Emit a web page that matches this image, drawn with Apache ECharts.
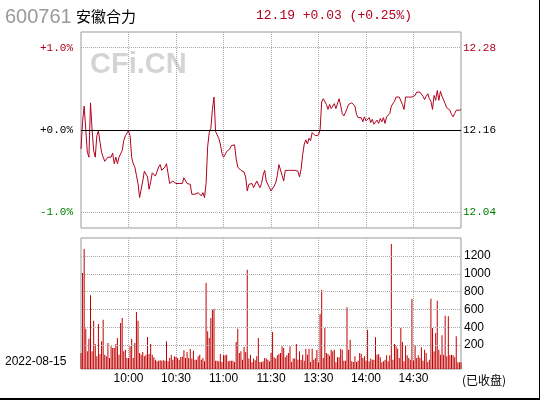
<!DOCTYPE html>
<html>
<head>
<meta charset="utf-8">
<title>600761 安徽合力</title>
<script src="https://cdn.jsdelivr.net/npm/echarts@6/dist/echarts.min.js"></script>
<style>
  html, body { margin: 0; padding: 0; background: #fff; }
  #wrap { position: relative; width: 540px; height: 400px; }
  #chart { width: 540px; height: 400px; }
  #frame { position: absolute; left: 0; top: 0; width: 540px; height: 400px; box-sizing: border-box;
           border-right: 1px solid #000; border-bottom: 2px solid #000; pointer-events: none; }
</style>
</head>
<body>
<div id="wrap">
  <div id="chart"></div>
  <div id="frame"></div>
</div>
<script>
// Intraday data for 600761, 2022-08-15 (one point per minute, 9:30-11:30 and 13:01-15:00)
const BASE_PRICE = 12.16;

// change vs. previous close, in %
const pctChange = [
  -0.23, 0.10, 0.29, 0.31, -0.27, -0.33, 0.33, 0.00, -0.25, -0.33,
  -0.07, -0.01, -0.15, -0.27, -0.33, -0.38, -0.40, -0.33, -0.33, -0.33,
  -0.28, -0.41, -0.33, -0.41, -0.33, -0.33, -0.25, -0.13, -0.07, -0.05,
  -0.01, -0.07, -0.33, -0.41, -0.45, -0.55, -0.65, -0.82, -0.72, -0.62,
  -0.50, -0.49, -0.57, -0.72, -0.63, -0.52, -0.54, -0.56, -0.55, -0.45,
  -0.42, -0.49, -0.49, -0.45, -0.41, -0.53, -0.65, -0.65, -0.62, -0.61,
  -0.65, -0.65, -0.65, -0.65, -0.65, -0.58, -0.58, -0.65, -0.65, -0.66,
  -0.78, -0.80, -0.78, -0.80, -0.76, -0.76, -0.80, -0.76, -0.82, -0.65,
  -0.20, -0.03, 0.02, 0.25, 0.40, -0.02, 0.00, -0.10, -0.17, -0.28,
  -0.33, -0.30, -0.26, -0.24, -0.23, -0.19, -0.21, -0.18, -0.35, -0.45,
  -0.47, -0.49, -0.50, -0.51, -0.57, -0.74, -0.66, -0.65, -0.65, -0.70,
  -0.66, -0.62, -0.60, -0.70, -0.65, -0.55, -0.49, -0.62, -0.62, -0.70,
  -0.74,
  -0.74, -0.68, -0.64, -0.55, -0.42, -0.43, -0.55, -0.62, -0.49,
  -0.49, -0.49, -0.49, -0.49, -0.49, -0.49, -0.49, -0.50, -0.57, -0.48,
  -0.30, -0.17, -0.12, -0.17, -0.10, -0.13, -0.03, -0.04, -0.07, -0.07,
  -0.06, 0.00, 0.34, 0.38, 0.39, 0.31, 0.25, 0.31, 0.26, 0.27,
  0.32, 0.26, 0.28, 0.38, 0.30, 0.20, 0.17, 0.21, 0.26, 0.31,
  0.33, 0.33, 0.33, 0.29, 0.19, 0.15, 0.15, 0.15, 0.10, 0.16,
  0.11, 0.13, 0.15, 0.09, 0.13, 0.07, 0.07, 0.12, 0.08, 0.14,
  0.10, 0.15, 0.08, 0.16, 0.17, 0.20, 0.29, 0.27, 0.35, 0.40,
  0.40, 0.40, 0.40, 0.31, 0.25, 0.40, 0.40, 0.40, 0.40, 0.40,
  0.41, 0.42, 0.46, 0.47, 0.46, 0.47, 0.41, 0.37, 0.41, 0.44,
  0.38, 0.35, 0.25, 0.42, 0.36, 0.48, 0.36, 0.47, 0.41, 0.42,
  0.32, 0.27, 0.27, 0.24, 0.19, 0.16, 0.20, 0.24, 0.24, 0.24,
  0.25
];

// volume per minute (hands)
const volume = [
  110, 1010, 1280, 384, 129, 271, 759, 129, 474, 211,
  73, 437, 99, 241, 485, 91, 73, 223, 54, 185,
  166, 166, 211, 279, 91, 448, 504, 129, 148, 54,
  54, 185, 271, 54, 223, 572, 474, 110, 91, 121,
  73, 91, 290, 99, 211, 91, 62, 35, 16, 24,
  28, 24, 28, 24, 241, 16, 54, 91, 35, 73,
  65, 54, 35, 65, 69, 140, 54, 121, 54, 155,
  47, 136, 35, 35, 73, 91, 35, 54, 16, 898,
  354, 279, 504, 598, 609, 24, 24, 16, 99, 9,
  84, 84, 91, 16, 24, 24, 24, 9, 234, 384,
  110, 129, 35, 178, 121, 1048, 47, 91, 5, 47,
  28, 73, 279, 9, 5, 16, 54, 47, 35, 16,
  110, 346, 62, 47, 84, 99, 110, 185, 166, 62,
  84, 110, 185, 9, 47, 47, 211, 35, 129, 35,
  91, 24, 159, 91, 159, 9, 159, 35, 54, 144,
  5, 549, 823, 54, 391, 110, 99, 80, 148, 129,
  148, 5, 62, 62, 159, 148, 24, 24, 624, 148,
  260, 16, 9, 73, 9, 24, 110, 99, 54, 73,
  24, 373, 16, 47, 35, 35, 286, 91, 99, 62,
  5, 16, 35, 84, 16, 84, 1336, 35, 211, 185,
  159, 54, 391, 234, 16, 196, 84, 54, 35, 718,
  24, 196, 54, 84, 54, 174, 24, 148, 110, 9,
  35, 721, 391, 129, 335, 699, 148, 91, 309, 91,
  530, 73, 523, 84, 91, 84, 62, 298, 5, 5,
  5
];

const pctTicks = [-1, 0, 1];
const volTicks = [200, 400, 600, 800, 1000, 1200];
const timeTicks = ['10:00', '10:30', '11:00', '11:30', '13:30', '14:00', '14:30'];

// minute labels for the two sessions
function buildTimes() {
    const out = [];
    const pad = n => (n < 10 ? '0' : '') + n;
    for (let m = 9 * 60 + 30; m <= 11 * 60 + 30; m++) out.push(pad(Math.floor(m / 60)) + ':' + pad(m % 60));
    for (let m = 13 * 60 + 1; m <= 15 * 60; m++) out.push(pad(Math.floor(m / 60)) + ':' + pad(m % 60));
    return out;
}
const times = buildTimes();

const RED = '#b0001e';
const GREEN = '#008000';
const GRID_GRAY = '#aaaaaa';

function pctColor(v) {
    v = Number(v);
    if (v > 0) return RED;
    if (v < 0) return GREEN;
    return '#000';
}

function showTick(idx) {
    return timeTicks.indexOf(times[idx]) !== -1 && idx !== 0;
}

const chart = echarts.init(document.getElementById('chart'));

const option = {
    animation: false,
    grid: [
        { left: 81, top: 32, width: 380, height: 196, show: true, borderColor: '#999', borderWidth: 1 },
        { left: 81, top: 238, width: 380, height: 131, show: true, borderColor: '#999', borderWidth: 1 }
    ],
    xAxis: [
        {
            gridIndex: 0, type: 'category', data: times, boundaryGap: false,
            axisLine: { show: false }, axisTick: { show: false }, axisLabel: { show: false },
            splitLine: { show: true, interval: showTick, lineStyle: { color: GRID_GRAY, type: 'dotted', width: 1 } }
        },
        {
            gridIndex: 1, type: 'category', data: times, boundaryGap: false,
            axisLine: { show: false }, axisTick: { show: false },
            axisLabel: { interval: showTick, color: '#000', fontFamily: 'Liberation Sans', fontSize: 12, margin: 4 },
            splitLine: { show: true, interval: showTick, lineStyle: { color: GRID_GRAY, type: 'dotted', width: 1 } }
        }
    ],
    yAxis: [
        {
            gridIndex: 0, type: 'value', position: 'left', min: -1.19, max: 1.19,
            axisLine: { show: false }, axisTick: { show: false }, splitLine: { show: false },
            axisLabel: {
                customValues: pctTicks, margin: 8, fontFamily: 'Liberation Mono', fontSize: 11,
                color: pctColor,
                formatter: v => (v >= 0 ? '+' : '') + Number(v).toFixed(1) + '%'
            }
        },
        {
            gridIndex: 0, type: 'value', position: 'right', min: -1.19, max: 1.19,
            axisLine: { show: false }, axisTick: { show: false }, splitLine: { show: false },
            axisLabel: {
                customValues: pctTicks, margin: 2, fontFamily: 'Liberation Mono', fontSize: 11,
                color: pctColor,
                formatter: v => (BASE_PRICE * (1 + Number(v) / 100)).toFixed(2)
            }
        },
        {
            gridIndex: 1, type: 'value', position: 'right', min: -70, max: 1404, startValue: -70,
            axisLine: { show: false }, axisTick: { show: false }, splitLine: { show: false },
            axisLabel: {
                customValues: volTicks, margin: 3, fontFamily: 'Liberation Sans', fontSize: 12, color: '#000',
                formatter: v => String(v)
            }
        }
    ],
    graphic: [
        { type: 'text', x: 5, y: 17, z: 10, style: { text: '600761', font: '20px "Liberation Sans"', fill: '#999', verticalAlign: 'middle' } },
        { type: 'text', x: 76, y: 16, z: 10, style: { text: '安徽合力', font: '15px "Noto Sans CJK SC"', fill: '#000', verticalAlign: 'middle' } },
        { type: 'text', x: 256, y: 16, z: 10, style: { text: '12.19 +0.03 (+0.25%)', font: '13px "Liberation Mono"', fill: RED, verticalAlign: 'middle' } },
        { type: 'text', x: 90, y: 65, z: 0, style: { text: 'CFi.CN', font: 'bold 29px "Liberation Sans"', fill: '#d4d4d4', verticalAlign: 'middle' } },
        { type: 'text', x: 5, y: 362, z: 10, style: { text: '2022-08-15', font: '12px "Liberation Sans"', fill: '#000', verticalAlign: 'middle' } },
        { type: 'text', x: 462, y: 380, z: 10, style: { text: '(已收盘)', font: '12px "Noto Sans CJK SC"', fill: '#000', verticalAlign: 'middle' } }
    ],
    series: [
        {
            name: '涨跌幅', type: 'line', xAxisIndex: 0, yAxisIndex: 0, data: pctChange,
            symbol: 'none', lineStyle: { color: RED, width: 1 }, z: 3,
            markLine: {
                silent: true, symbol: 'none', label: { show: false },
                data: pctTicks.map(v => ({
                    yAxis: v,
                    lineStyle: v === 0 ? { color: '#000', type: 'solid', width: 1 } : { color: GRID_GRAY, type: 'dotted', width: 1 }
                }))
            }
        },
        {
            name: '成交量', type: 'bar', xAxisIndex: 1, yAxisIndex: 2, data: volume,
            barWidth: 1, itemStyle: { color: '#c00000' },
            markLine: {
                silent: true, symbol: 'none', label: { show: false },
                data: volTicks.map(v => ({ yAxis: v, lineStyle: { color: GRID_GRAY, type: 'dotted', width: 1 } }))
            }
        }
    ]
};

chart.setOption(option);
</script>
</body>
</html>
